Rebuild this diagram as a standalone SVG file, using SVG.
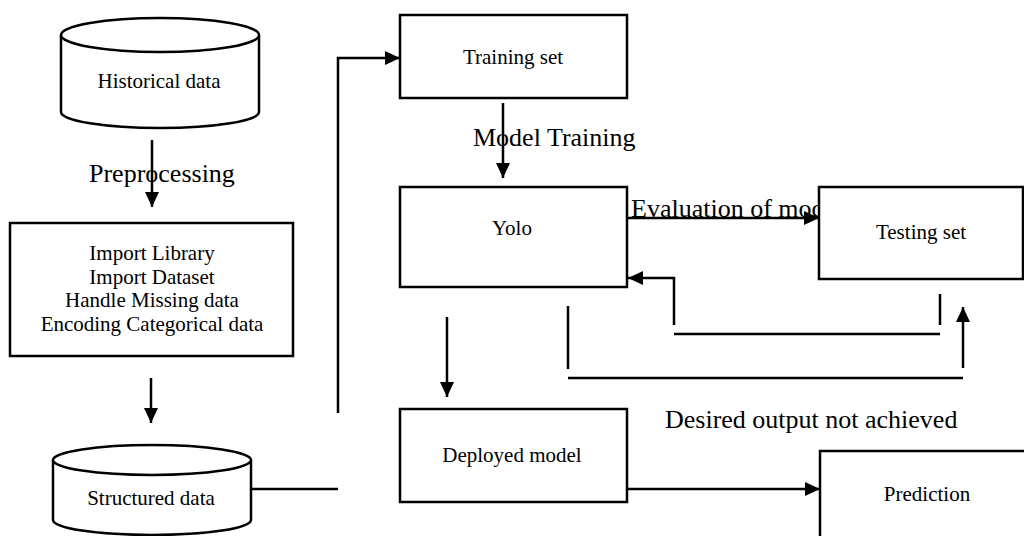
<svg xmlns="http://www.w3.org/2000/svg" width="1024" height="536" viewBox="0 0 1024 536">
  <style>
    .box { fill: #ffffff; stroke: #000000; stroke-width: 2.5; }
    .ln { fill: none; stroke: #000000; stroke-width: 2.5; }
    .t { font-family: "Liberation Serif", "Times New Roman", serif; font-size: 21px; fill: #000000; text-anchor: middle; }
    .lbl { font-family: "Liberation Serif", "Times New Roman", serif; font-size: 26px; fill: #000000; }
  </style>
  <defs>
    <marker id="arr" viewBox="0 0 15 14" refX="15" refY="7" markerWidth="15" markerHeight="14" orient="auto" markerUnits="userSpaceOnUse">
      <path d="M0,0 L15,7 L0,14 z" fill="#000000"/>
    </marker>
  </defs>
  <rect width="1024" height="536" fill="#ffffff"/>

  <g id="connectors">
    <path class="ln" d="M152,140 V207" marker-end="url(#arr)"/>
    <path class="ln" d="M151,378 V423" marker-end="url(#arr)"/>
    <path class="ln" d="M251,489 H338"/>
    <path class="ln" d="M338,413 V58 H400" marker-end="url(#arr)"/>
    <path class="ln" d="M503,103 V178" marker-end="url(#arr)"/>
    <path class="ln" d="M627,218 H819" marker-end="url(#arr)"/>
    <path class="ln" d="M674,325 V278 H628" marker-end="url(#arr)"/>
    <path class="ln" d="M674,334 H940"/>
    <path class="ln" d="M940,294 V325"/>
    <path class="ln" d="M568,306 V369"/>
    <path class="ln" d="M568,378 H963"/>
    <path class="ln" d="M963,368 V307" marker-end="url(#arr)"/>
    <path class="ln" d="M447,317 V397" marker-end="url(#arr)"/>
    <path class="ln" d="M627,489 H820" marker-end="url(#arr)"/>
  </g>

  <g id="labels">
    <text class="lbl" x="89" y="182">Preprocessing</text>
    <text class="lbl" x="473" y="146">Model Training</text>
    <text class="lbl" x="631" y="217">Evaluation of model</text>
    <text class="lbl" x="665" y="428">Desired output not achieved</text>
  </g>

  <g id="historical">
    <path class="box" d="M61,35 V112 A99,16 0 0 0 259,112 V35"/>
    <ellipse class="box" cx="160" cy="35" rx="99" ry="17"/>
    <text class="t" x="159" y="88">Historical data</text>
  </g>

  <g id="preprocess">
    <rect class="box" x="10" y="223" width="283" height="133"/>
    <text class="t" x="152" y="260">Import Library</text>
    <text class="t" x="152" y="283.5">Import Dataset</text>
    <text class="t" x="152" y="307">Handle Missing data</text>
    <text class="t" x="152" y="330.5">Encoding Categorical data</text>
  </g>

  <g id="structured">
    <path class="box" d="M53,460 V520 A99,15 0 0 0 251,520 V460"/>
    <ellipse class="box" cx="152" cy="460" rx="99" ry="15"/>
    <text class="t" x="151" y="505">Structured data</text>
  </g>

  <g id="training">
    <rect class="box" x="400" y="15" width="227" height="83"/>
    <text class="t" x="513" y="64">Training set</text>
  </g>

  <g id="yolo">
    <rect class="box" x="400" y="187" width="227" height="100"/>
    <text class="t" x="512" y="235">Yolo</text>
  </g>

  <g id="testing">
    <rect class="box" x="819" y="187" width="204" height="92"/>
    <text class="t" x="921" y="239">Testing set</text>
  </g>

  <g id="deployed">
    <rect class="box" x="400" y="409" width="227" height="93"/>
    <text class="t" x="512" y="462">Deployed model</text>
  </g>

  <g id="prediction">
    <rect class="box" x="820" y="451" width="210" height="100"/>
    <text class="t" x="927" y="501">Prediction</text>
  </g>
</svg>
